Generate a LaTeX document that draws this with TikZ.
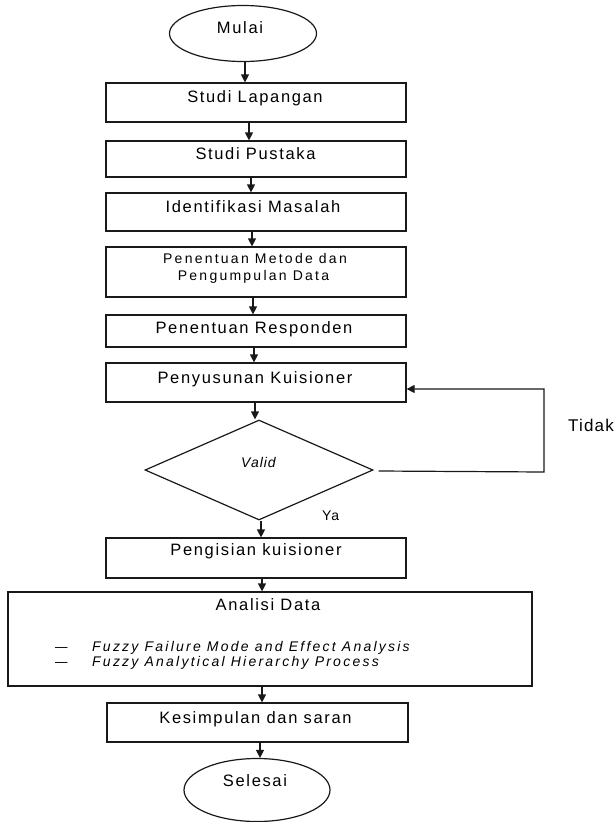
\documentclass[tikz,border=0pt]{standalone}
\usepackage{fontspec}
\setmainfont{Liberation Sans}
\newfontfamily\mainlbl[LetterSpace=10]{Liberation Sans}
\newfontfamily\smalllbl[LetterSpace=16]{Liberation Sans}
\newfontfamily\itlbl[LetterSpace=16]{Liberation Sans}
\newfontfamily\tinylbl[LetterSpace=7]{Liberation Sans}
\usetikzlibrary{shapes.geometric,arrows.meta}
\tikzset{
  ln/.style={draw=black!90, line width=1.2pt},
  arr/.style={ln, -{Triangle[width=8pt,length=8pt]}},
  boxnode/.style={ln, rectangle, inner sep=0pt, minimum width=300pt},
  term/.style={ln, ellipse, inner sep=0pt},
  lbl/.style={anchor=base, inner sep=0pt, text=black, font=\mainlbl\fontsize{16.5}{19}\selectfont},
  slbl/.style={anchor=base, inner sep=0pt, text=black, font=\smalllbl\fontsize{14}{16}\selectfont},
  ilbl/.style={anchor=base west, inner sep=0pt, text=black, font=\itlbl\itshape\fontsize{14}{15}\selectfont},
}
\begin{document}
\begin{tikzpicture}[x=1pt,y=-1pt]
\useasboundingbox (0,0) rectangle (615,822);
% shapes
\node[term, minimum width=147pt, minimum height=56pt] (mulai) at (243,33.5) {};
\node[boxnode, minimum height=39pt] (b1) at (256,102.5) {};
\node[boxnode, minimum height=36pt] (b2) at (256,159) {};
\node[boxnode, minimum height=38pt] (b3) at (256,212) {};
\node[boxnode, minimum height=50pt] (b4) at (256,272) {};
\node[boxnode, minimum height=32pt] (b5) at (256,331) {};
\node[boxnode, minimum height=39pt] (b6) at (256,382.5) {};
\node[ln, diamond, inner sep=0pt, minimum width=228pt, minimum height=100pt] (d) at (259,470) {};
\node[boxnode, minimum height=40pt] (b7) at (256,558) {};
\node[boxnode, minimum width=524pt, minimum height=94pt] (b8) at (270,639) {};
\node[boxnode, minimum width=301pt, minimum height=39pt] (b9) at (257.5,722.5) {};
\node[term, minimum width=146pt, minimum height=63pt] (selesai) at (257,790) {};
% texts
\node[lbl] (tm) at (240,33) {Mulai};
\node[lbl] (t1) at (255,102) {Studi Lapangan};
\node[lbl] (t2) at (255.5,159) {Studi Pustaka};
\node[lbl] (t3) at (253,212) {Identifikasi Masalah};
\node[slbl] (t4a) at (255,263) {Penentuan Metode dan};
\node[slbl] (t4b) at (253.5,280) {Pengumpulan Data};
\node[lbl] (t5) at (254,333) {Penentuan Responden};
\node[lbl] (t6) at (255,383) {Penyusunan Kuisioner};
\node[anchor=base, inner sep=0pt, text=black, font=\tinylbl\itshape\fontsize{14}{16}\selectfont] (tv) at (258.5,467) {Valid};
\node[anchor=base west, inner sep=0pt, text=black, font=\tinylbl\fontsize{14}{16}\selectfont] (tya) at (322,520) {Ya};
\node[anchor=base west, inner sep=0pt, text=black, font=\tinylbl\fontsize{17}{19}\selectfont] (ttd) at (568,431) {Tidak};
\node[lbl] (t7) at (256,555) {Pengisian kuisioner};
\node[lbl] (t8) at (268,610) {Analisi Data};
\node[ilbl] (d1) at (55,651) {\upshape\scalebox{1.6}[1]{–}};
\node[ilbl] (t8a) at (92,651) {Fuzzy Failure Mode and Effect Analysis};
\node[ilbl] (d2) at (55,666) {\upshape\scalebox{1.6}[1]{–}};
\node[ilbl] (t8b) at (92,666) {Fuzzy Analytical Hierarchy Process};
\node[lbl] (t9) at (255.5,723) {Kesimpulan dan saran};
\node[lbl] (ts) at (255,786) {Selesai};
% connectors
\draw[arr] ([xshift=2]mulai.south) -- ([xshift=2]mulai.south |- b1.north);
\draw[arr] ([xshift=-7]b1.south) -- ([xshift=-7]b1.south |- b2.north);
\draw[arr] ([xshift=-5]b2.south) -- ([xshift=-5]b2.south |- b3.north);
\draw[arr] ([xshift=-4]b3.south) -- ([xshift=-4]b3.south |- b4.north);
\draw[arr] ([xshift=-3]b4.south) -- ([xshift=-3]b4.south |- b5.north);
\draw[arr] ([xshift=-2]b5.south) -- ([xshift=-2]b5.south |- b6.north);
\draw[arr] ([xshift=-1]b6.south) -- ([xshift=-1]b6.south |- d.north);
\draw[arr] ([xshift=2]d.south) -- ([xshift=2]d.south |- b7.north);
\draw[arr] ([xshift=6]b7.south) -- ([xshift=6]b7.south |- b8.north);
\draw[arr] ([xshift=4.5]b9.north |- b8.south) -- ([xshift=4.5]b9.north);
\draw[arr] ([xshift=3]selesai.north |- b9.south) -- ([xshift=3]selesai.north);
\coordinate (c1) at (544,472);
\draw[arr] ([xshift=5,yshift=-1]d.east) -- (c1) |- ([yshift=-6.5]b6.east);
\end{tikzpicture}
\end{document}
